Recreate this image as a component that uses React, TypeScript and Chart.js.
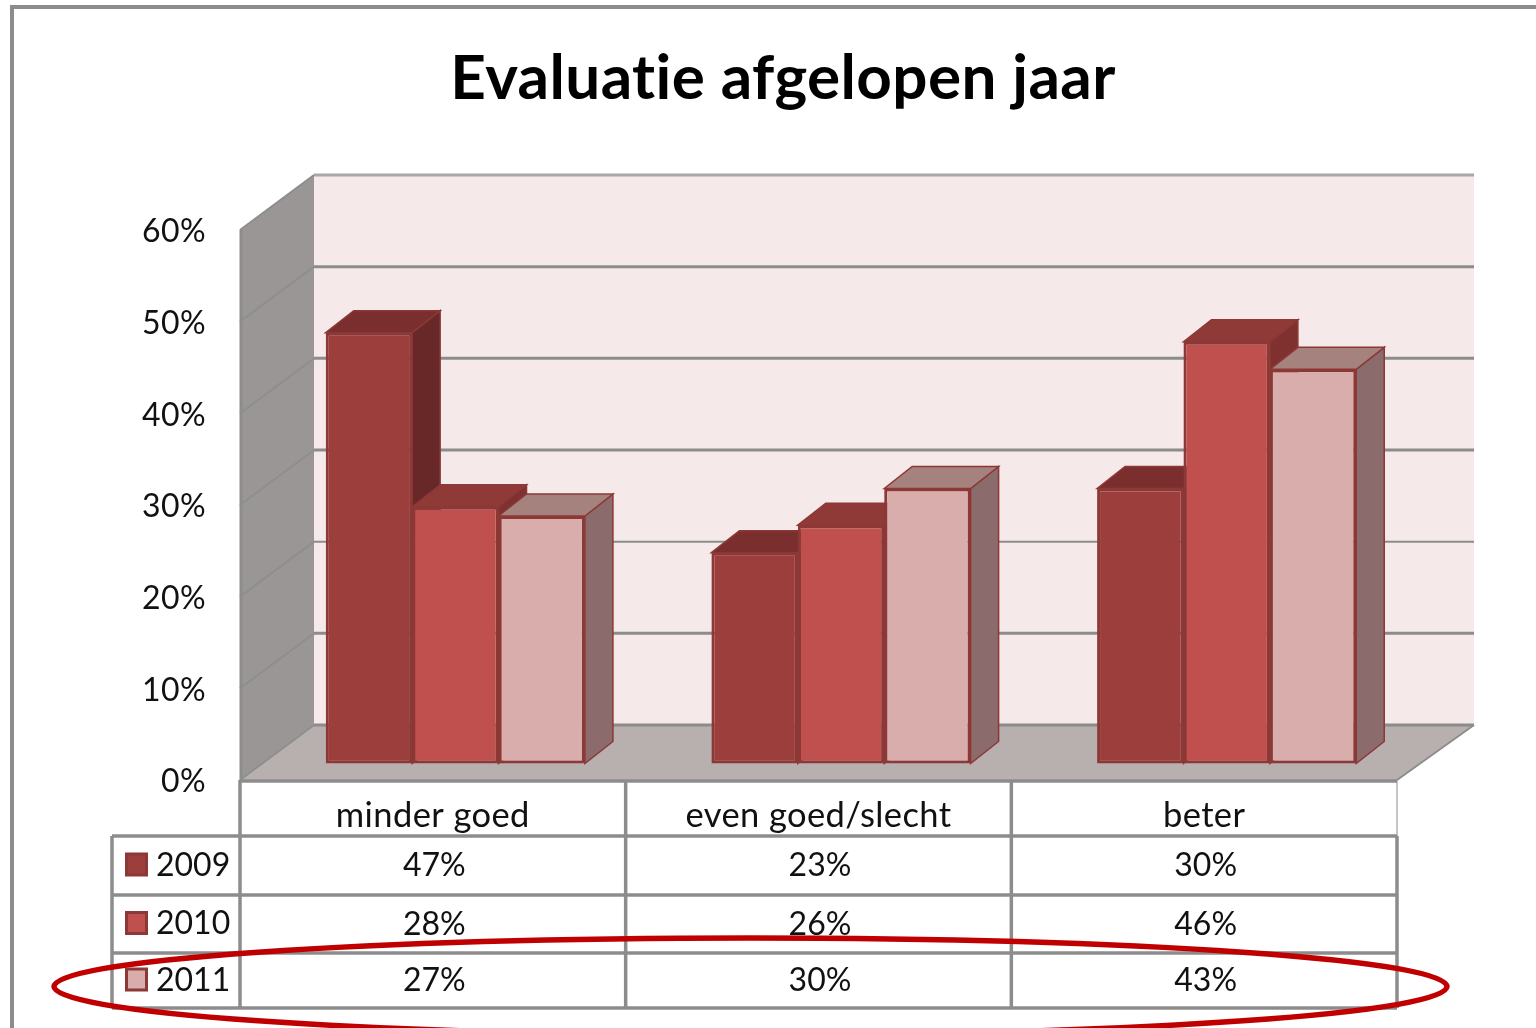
import React, { useEffect, useRef } from "react";
import { Chart, registerables } from "chart.js";

Chart.register(...registerables);

const categories = ["minder goed", "even goed/slecht", "beter"];
const seriesNames = ["2009", "2010", "2011"];
const values2009 = [47, 23, 30];
const values2010 = [28, 26, 46];
const values2011 = [27, 30, 43];
const yTicks = [0, 10, 20, 30, 40, 50, 60];

const frontColors = ["#9c3e3c", "#c0504d", "#d9adab"];
const topColors = ["#7a2f2e", "#903a38", "#a6827f"];
const sideColors = ["#672827", "#7f3130", "#8b6b6c"];
const edgeColor = "#8c3836";
const gridColor = "#8c8c8c";
const FONT = "Lato, Carlito, 'Open Sans', sans-serif";

const threeD: any = {
  id: "threeD",
  afterLayout(chart: any) {
    // the title is centred over the plot including its depth, not over the canvas
    if (chart.titleBlock) {
      chart.titleBlock.left = 30;
      chart.titleBlock.right = 1536;
    }
  },
  beforeDraw(chart: any) {
    const { ctx, chartArea: a, scales } = chart;
    const y = scales.y;
    const dx = 74;
    const dy = -55;
    const rdx = 77;
    const p = (pts: number[][], fill: string) => {
      ctx.beginPath();
      pts.forEach((q, i) => (i ? ctx.lineTo(q[0], q[1]) : ctx.moveTo(q[0], q[1])));
      ctx.closePath();
      ctx.fillStyle = fill;
      ctx.fill();
    };
    const line = (x1: number, y1: number, x2: number, y2: number, c: string, w: number) => {
      ctx.beginPath();
      ctx.moveTo(x1, y1);
      ctx.lineTo(x2, y2);
      ctx.strokeStyle = c;
      ctx.lineWidth = w;
      ctx.stroke();
    };
    ctx.save();
    ctx.fillStyle = "#ffffff";
    ctx.fillRect(0, 0, chart.width, chart.height);
    // outer frame
    line(12, 1028, 12, 5, gridColor, 4);
    line(10, 7, 1536, 7, gridColor, 4);

    const y0 = y.getPixelForValue(0);
    const y60 = y.getPixelForValue(60);
    p([[a.left + dx, y60 + dy], [a.right + rdx, y60 + dy], [a.right + rdx, y0 + dy], [a.left + dx, y0 + dy]], "#f5e9e9");
    p([[a.left, y60], [a.left + dx, y60 + dy], [a.left + dx, y0 + dy], [a.left, y0]], "#9b9696");
    p([[a.left, y0], [a.left + dx, y0 + dy], [a.right + rdx, y0 + dy], [a.right, y0]], "#b8afaf");
    yTicks.forEach((t) => {
      const py = y.getPixelForValue(t);
      const thin = t === 20;
      line(a.left + dx, py + dy, a.right + rdx, py + dy, t === 60 ? "#a8a8a8" : gridColor, thin ? 2 : 3);
      if (t > 0 && t < 60) line(a.left, py, a.left + dx, py + dy, "#8d8f8f", 2);
    });
    line(a.left + 1, y60, a.left + 1, y0, gridColor, 3);
    line(a.left, y60, a.left + dx, y60 + dy, "#8d8d8d", 2);
    line(a.left, y0, a.left + dx, y0 + dy, "#8d8f8f", 2);
    line(a.right, y0, a.right + rdx, y0 + dy, "#8d8d8d", 2);
    ctx.restore();
    // keeps the title's letters apart (no "ti" ligature, as in the reference)
    ctx.letterSpacing = "0.4px";
  },
  beforeDatasetsDraw(chart: any) {
    const { ctx } = chart;
    const ox = 22.5;
    const oy = -16.5;
    const ddx = 28;
    const ddy = -22;
    ctx.letterSpacing = "0px";
    ctx.save();
    ctx.translate(ox, oy);
    chart.data.datasets.forEach((_: any, i: number) => {
      const meta = chart.getDatasetMeta(i);
      meta.data.forEach((bar: any) => {
        const { x, y, base, width } = bar.getProps(["x", "y", "base", "width"], true);
        const l = x - width / 2;
        const r = x + width / 2;
        ctx.lineJoin = "miter";
        ctx.strokeStyle = edgeColor;
        ctx.lineWidth = 1.5;
        ctx.beginPath();
        ctx.moveTo(r, y);
        ctx.lineTo(r + ddx, y + ddy);
        ctx.lineTo(r + ddx, base + ddy);
        ctx.lineTo(r, base);
        ctx.closePath();
        ctx.fillStyle = sideColors[i];
        ctx.fill();
        ctx.stroke();
        ctx.beginPath();
        ctx.moveTo(l, y);
        ctx.lineTo(l + ddx, y + ddy);
        ctx.lineTo(r + ddx, y + ddy);
        ctx.lineTo(r, y);
        ctx.closePath();
        ctx.fillStyle = topColors[i];
        ctx.fill();
        ctx.stroke();
        bar.draw(ctx);
      });
    });
    ctx.restore();
  },
  beforeDatasetDraw() {
    return false;
  },
  afterDraw(chart: any) {
    const { ctx, chartArea: a, scales } = chart;
    const x = scales.x;
    const rows = [
      { y: 836, values: values2009 },
      { y: 895, values: values2010 },
      { y: 953, values: values2011 },
    ];
    const rowEnd = 1008;
    const tableLeft = 112;
    const bounds = [a.left, ...categories.map((_, i) => (a.left + ((i + 1) * (a.right - a.left)) / categories.length))];
    ctx.save();
    ctx.strokeStyle = gridColor;
    ctx.lineWidth = 3.5;
    const hl = (x1: number, x2: number, yy: number) => {
      ctx.beginPath();
      ctx.moveTo(x1, yy);
      ctx.lineTo(x2, yy);
      ctx.stroke();
    };
    const vl = (xx: number, y1: number, y2: number) => {
      ctx.beginPath();
      ctx.moveTo(xx, y1);
      ctx.lineTo(xx, y2);
      ctx.stroke();
    };
    hl(a.left, a.right, a.bottom + 1);
    rows.forEach((r) => hl(tableLeft, a.right, r.y));
    hl(tableLeft, a.right, rowEnd);
    vl(tableLeft, rows[0].y, rowEnd);
    bounds.forEach((b, i) => {
      if (i === bounds.length - 1) {
        ctx.lineWidth = 1;
        vl(b, a.bottom, rows[0].y);
        ctx.lineWidth = 3.5;
        vl(b, rows[0].y, rowEnd);
      } else vl(b, a.bottom, rowEnd);
    });

    ctx.font = `32px ${FONT}`;
    ctx.textBaseline = "middle";
    ctx.fillStyle = "#111111";
    rows.forEach((r, ri) => {
      const next = ri < rows.length - 1 ? rows[ri + 1].y : rowEnd;
      const cy = (r.y + next) / 2;
      ctx.textAlign = "center";
      r.values.forEach((v, i) => {
        ctx.fillStyle = "#111111";
        ctx.fillText(`${v}%`, x.getPixelForValue(i) + 1.5, cy + 0.5);
      });
      ctx.fillStyle = edgeColor;
      ctx.fillRect(125, cy - 13, 23, 24);
      ctx.fillStyle = frontColors[ri];
      ctx.fillRect(128, cy - 10, 17, 18);
      ctx.fillStyle = "#111111";
      ctx.textAlign = "left";
      ctx.fillText(seriesNames[ri], 156, cy);
    });

    // red highlight ellipse
    ctx.beginPath();
    ctx.ellipse(750.5, 986.5, 696.5, 48.5, 0, 0, Math.PI * 2);
    ctx.strokeStyle = "#c00000";
    ctx.lineWidth = 5.5;
    ctx.stroke();
    ctx.restore();
  },
};

export default function App() {
  const ref = useRef<HTMLCanvasElement>(null);
  useEffect(() => {
    const chart = new Chart(ref.current as HTMLCanvasElement, {
      type: "bar",
      plugins: [threeD],
      data: {
        labels: categories,
        datasets: [values2009, values2010, values2011].map((data, i) => ({
          label: seriesNames[i],
          data,
          backgroundColor: frontColors[i],
          borderColor: edgeColor,
          borderWidth: 3,
          borderSkipped: false,
          barPercentage: 1,
          categoryPercentage: 0.672,
        })),
      },
      options: {
        responsive: false,
        animation: false,
        devicePixelRatio: 1,
        layout: { padding: { left: 0, right: 139, top: 0, bottom: 0 } },
        plugins: {
          legend: { display: false },
          tooltip: { enabled: false },
          title: {
            display: true,
            text: "Evaluatie afgelopen jaar",
            color: "#000000",
            font: { family: FONT, size: 62, weight: "bold" },
            padding: { top: 42, bottom: 113.6 },
          },
        },
        scales: {
          x: {
            grid: { display: false },
            border: { display: false },
            ticks: { color: "#111111", font: { family: FONT, size: 34.5 }, padding: 7.5, maxRotation: 0 },
            afterFit(s: any) {
              s.height = 248;
            },
          },
          y: {
            min: 0,
            max: 60,
            grid: { display: false },
            border: { display: false },
            ticks: {
              stepSize: 10,
              color: "#111111",
              font: { family: FONT, size: 32 },
              padding: 26,
              labelOffset: 2,
              callback: (v: any) => `${v}%`,
            },
            afterFit(s: any) {
              s.width = 240;
            },
          },
        },
      } as any,
    });
    return () => chart.destroy();
  }, []);
  return (
    <canvas
      ref={ref}
      width={1536}
      height={1028}
      style={{ position: "fixed", left: 0, top: 0, display: "block" }}
    />
  );
}
